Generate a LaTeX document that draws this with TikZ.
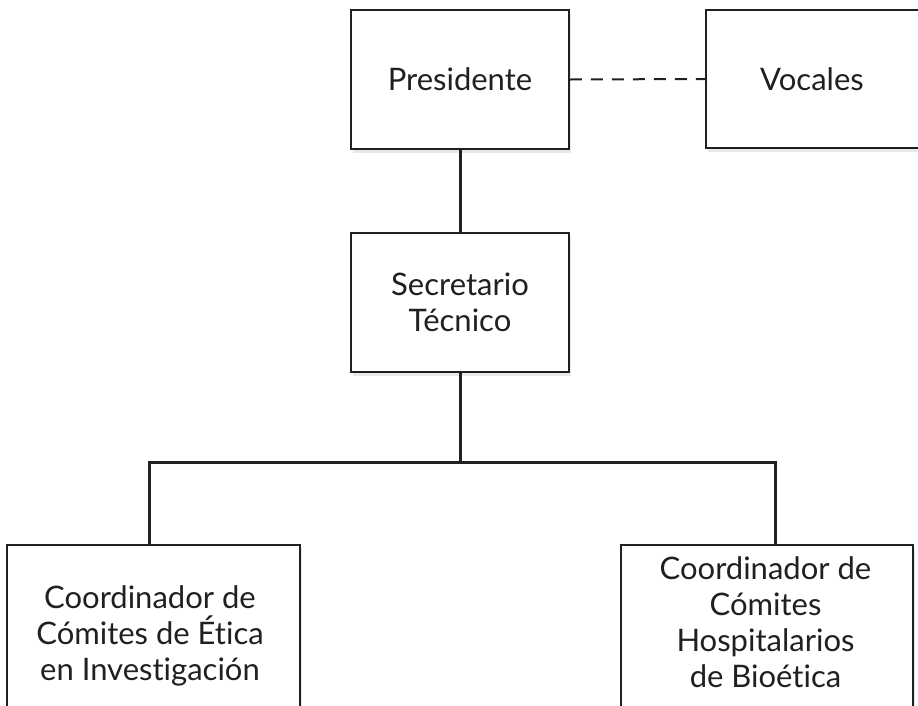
\documentclass[tikz,border=0pt]{standalone}
\usepackage{fontspec}
\setmainfont{Lato}[Ligatures={NoCommon}]
\usetikzlibrary{shadows,calc}
\definecolor{ink}{HTML}{231F20}
\tikzset{
  box/.style={draw=ink, line width=1.6pt, fill=white, rectangle, inner sep=0pt,
    drop shadow={opacity=0.18, shadow xshift=2pt, shadow yshift=-4pt}},
  lbl/.style={text=ink, align=center, font=\fontsize{31}{36}\selectfont},
  conn/.style={draw=ink, line width=3pt},
  dconn/.style={draw=ink, line width=2pt, dash pattern=on 12pt off 9pt}
}
\begin{document}
\begin{tikzpicture}[x=1pt,y=1pt]
\useasboundingbox (0,0) rectangle (918,-705);
\clip (0,0) rectangle (918,-705);
% boxes
\node[box, minimum width=218pt, minimum height=139pt] (pres) at (460,-79.5) {};
\node[box, minimum width=214pt, minimum height=138pt] (voc) at (813,-79) {};
\node[box, minimum width=218pt, minimum height=139pt] (sec) at (460,-302.5) {};
\node[box, minimum width=293pt, minimum height=190pt, anchor=north] (bl) at (153.5,-544) {};
\node[box, minimum width=292pt, minimum height=190pt, anchor=north] (br) at (767,-544) {};
% texts
\node[lbl] (tpres) at (pres.center) {Presidente};
\node[lbl] (tvoc) at (812,-79) {Vocales};
\node[lbl] (tsec) at (sec.center) {Secretario\\Técnico};
\node[lbl] (tbl) at (150,-636) {Coordinador de\\Cómites de Ética\\en Investigación};
\node[lbl] (tbr) at (765.5,-622) {Coordinador de\\Cómites\\Hospitalarios\\de Bioética};
% connectors
\coordinate (j) at (460,-462);
\coordinate (blt) at (149,-544);
\coordinate (brt) at (775,-544);
\draw[conn] (pres.south) -- (sec.north);
\draw[conn] (sec.south) -- (j);
\draw[conn] (blt) |- (j) -| (brt);
\draw[dconn] (pres.east) -- (voc.west);
\end{tikzpicture}
\end{document}
